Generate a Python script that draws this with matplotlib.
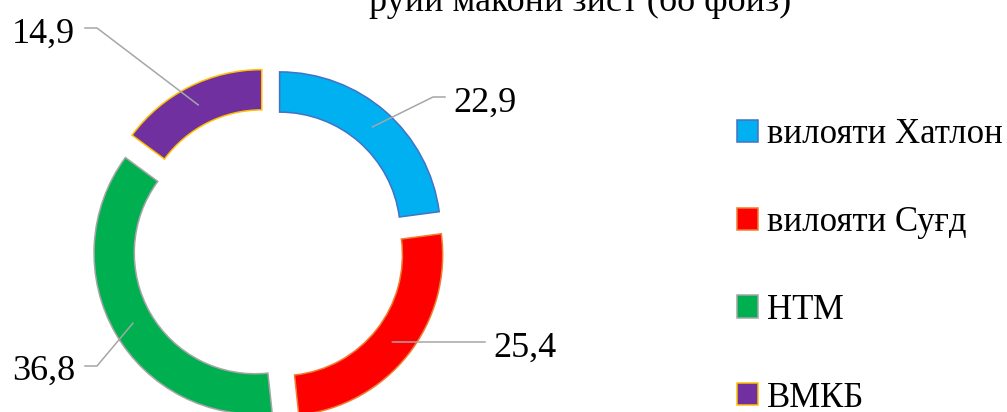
import matplotlib
matplotlib.use("Agg")
import matplotlib.pyplot as plt
import numpy as np

# Data
names = ["вилояти Хатлон", "вилояти Суғд", "НТМ", "ВМКБ"]
values = [22.9, 25.4, 36.8, 14.9]
fills = ["#00B0F0", "#FF0000", "#00B050", "#7030A0"]
edges = ["#4472C4", "#ED7D31", "#A5A5A5", "#FFC000"]
title = "руйи макони зист (бо фоиз)"

# layout in pixels (figure is 1007x412, donut centre and outer radius)
W, H = 1007, 412
CX, CY, RPX = 269, 245, 161

def px(x, y):
    return (x - CX) / RPX, (CY - y) / RPX

plt.rcParams['font.family'] = ['Liberation Serif', 'DejaVu Serif']

fig = plt.figure(figsize=(W / 100, H / 100), dpi=100)
ax = fig.add_axes([0, 0, 1, 1])

wedges, _ = ax.pie(values, colors=fills, startangle=90, counterclock=False,
                   explode=[0.1] * len(values), radius=1,
                   wedgeprops=dict(width=0.25, linewidth=1.1))
for w, ec in zip(wedges, edges):
    w.set_edgecolor(ec)

ax.set_xlim((0 - CX) / RPX, (W - CX) / RPX)
ax.set_ylim((CY - H) / RPX, CY / RPX)
ax.set_aspect('auto')
ax.axis('off')

# data labels with leader lines: (text anchor px, ha, bend points px)
label_layout = [
    ((453, 112), 'left', [(445, 97), (433, 97)]),
    ((493, 357), 'left', [(485, 342)]),
    ((75, 380), 'right', [(85, 366), (97, 366)]),
    ((75, 43), 'right', [(85, 28), (97, 28)]),
]
for w, v, (tpos, ha, bends) in zip(wedges, values, label_layout):
    th = np.deg2rad((w.theta1 + w.theta2) / 2)
    rm = w.r - w.width / 2
    mx = w.center[0] + rm * np.cos(th)
    my = w.center[1] + rm * np.sin(th)
    pts = [px(*b) for b in bends] + [(mx, my)]
    ax.plot([p[0] for p in pts], [p[1] for p in pts], color='#A6A6A6', lw=1.1)
    tx, ty = px(*tpos)
    ax.text(tx, ty, f"{v:.1f}".replace('.', ','), ha=ha, va='baseline',
            fontsize=26, color='black')

fig.text(580 / W, 1 - 11 / H, title, ha='center', va='baseline', fontsize=26)

fig.legend(wedges, names, loc='upper left', bbox_to_anchor=(737 / W, 1 - 118 / H),
           frameon=False, fontsize=25, handlelength=0.6, handleheight=0.6,
           handletextpad=0.27, labelspacing=1.58, borderpad=0, borderaxespad=0)

fig.savefig("out.png", dpi=100)
